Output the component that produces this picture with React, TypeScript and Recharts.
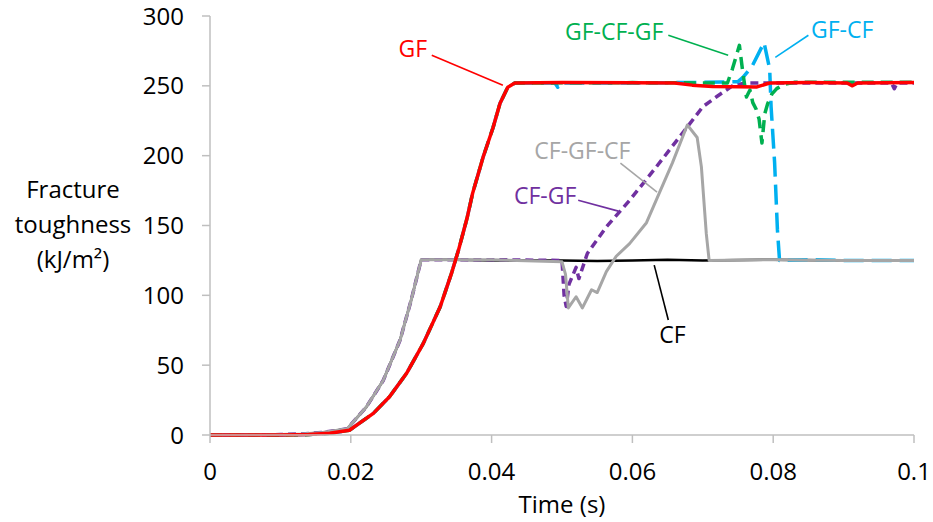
import React from 'react';
import { LineChart, Line, XAxis, YAxis, ReferenceLine, ReferenceDot } from 'recharts';

// ---- Data (time in s, fracture toughness in kJ/m²) ----
const gfX = [0, 0.01, 0.014, 0.017, 0.0198, 0.0232, 0.0255, 0.0279, 0.0303, 0.0327, 0.0343, 0.0353, 0.0365, 0.0373, 0.0388, 0.0402, 0.0412, 0.0423, 0.0433, 0.05, 0.06, 0.066, 0.0685, 0.0714, 0.075, 0.0777, 0.0795, 0.085, 0.0905, 0.0912, 0.092, 0.1];
const gfY = [0, 0, 0.3, 1.2, 3.4, 15.5, 27.4, 44, 65.6, 91.8, 115.7, 132.4, 155, 173, 199, 220, 237.5, 249, 252, 252.3, 252.2, 252, 250.5, 249.5, 249.3, 249.2, 252, 252.3, 252, 250, 252, 252.3];

const cfX = [0, 0.005, 0.01, 0.013, 0.016, 0.0195, 0.0222, 0.0246, 0.027, 0.0286, 0.03, 0.035, 0.04, 0.045, 0.05, 0.055, 0.06, 0.065, 0.07, 0.08, 0.09, 0.1];
const cfY = [0, 0, 0.3, 0.8, 1.8, 4.5, 20, 39, 68, 97, 125.5, 125.5, 125, 125, 125, 124.5, 125, 125.5, 125, 125.5, 125, 125];

const cfgfcfX = [0, 0.005, 0.01, 0.013, 0.016, 0.0195, 0.0222, 0.0246, 0.027, 0.0286, 0.03, 0.04, 0.05, 0.0505, 0.0509, 0.052, 0.0529, 0.0542, 0.055, 0.0563, 0.0577, 0.0596, 0.062, 0.0638, 0.0657, 0.0678, 0.0692, 0.0698, 0.0705, 0.0709, 0.08, 0.09, 0.1];
const cfgfcfY = [0, 0, 0.3, 0.8, 1.8, 4.5, 20, 39, 68, 97, 125.5, 125.5, 124, 115, 91, 99, 91, 104, 102, 117, 128, 137, 152, 173, 195, 222, 213, 192, 144, 125, 125.5, 125, 125];

const cfgfX = [0, 0.005, 0.01, 0.013, 0.016, 0.0195, 0.0222, 0.0246, 0.027, 0.0286, 0.03, 0.04, 0.05, 0.0503, 0.0506, 0.051, 0.052, 0.0524, 0.0536, 0.0563, 0.0596, 0.0634, 0.0671, 0.07, 0.0719, 0.0742, 0.076, 0.08, 0.09, 0.0968, 0.0972, 0.0976, 0.1];
const cfgfY = [0, 0, 0.3, 0.8, 1.8, 4.5, 20, 39, 68, 97, 125.5, 125.5, 125, 100, 92, 108, 120, 112, 130, 149, 168, 192, 216, 235, 242, 250, 252, 252, 252, 252, 248, 252, 252];

const gfcfX = [0, 0.01, 0.014, 0.017, 0.0198, 0.0232, 0.0255, 0.0279, 0.0303, 0.0327, 0.0343, 0.0353, 0.0365, 0.0373, 0.0388, 0.0402, 0.0412, 0.0423, 0.0433, 0.049, 0.0494, 0.0498, 0.06, 0.07, 0.075, 0.0757, 0.077, 0.0787, 0.0795, 0.0797, 0.0802, 0.0806, 0.0809, 0.085, 0.09, 0.1];
const gfcfY = [0, 0, 0.3, 1.2, 3.4, 15.5, 27.4, 44, 65.6, 91.8, 115.7, 132.4, 155, 173, 199, 220, 237.5, 249, 252, 252, 249, 252, 252, 252.5, 253, 256, 264, 281, 262, 235, 195, 147, 125, 125.5, 125, 125];

const gfcfgfX = [0, 0.01, 0.014, 0.017, 0.0198, 0.0232, 0.0255, 0.0279, 0.0303, 0.0327, 0.0343, 0.0353, 0.0365, 0.0373, 0.0388, 0.0402, 0.0412, 0.0423, 0.0433, 0.06, 0.0735, 0.0742, 0.0752, 0.0757, 0.0762, 0.0767, 0.0771, 0.0776, 0.078, 0.0784, 0.0788, 0.0792, 0.0798, 0.0805, 0.0815, 0.083, 0.1];
const gfcfgfY = [0, 0, 0.3, 1.2, 3.4, 15.5, 27.4, 44, 65.6, 91.8, 115.7, 132.4, 155, 173, 199, 220, 237.5, 249, 252, 252.3, 252, 262, 279, 259, 242, 247, 238, 233, 226, 209, 230, 237, 244, 248, 251, 252.5, 252.5];

const xTicks = [0, 0.02, 0.04, 0.06, 0.08, 0.1];
const yTicks = [0, 50, 100, 150, 200, 250, 300];

// annotation labels (data coordinates)
const labelNames = ['GF', 'GF-CF-GF', 'GF-CF', 'CF-GF-CF', 'CF-GF', 'CF'];
const labelColors = ['#ff0000', '#00b050', '#00b0f0', '#a6a6a6', '#7030a0', '#000000'];
const labelX = [0.0288, 0.0574, 0.0898, 0.0529, 0.0476, 0.0657];
const labelY = [276.2, 288.3, 289.8, 203.2, 171.0, 71.5];
const leaderFromX = [0.0315, 0.0651, 0.085, 0.0583, 0.0523, 0.0631];
const leaderFromY = [271.9, 286.2, 286.2, 194.6, 168.1, 121.6];
const leaderToX = [0.0416, 0.0736, 0.0803, 0.0635, 0.058, 0.0651];
const leaderToY = [250.4, 271.9, 270.4, 173.9, 160.3, 82.3];

const toPts = (xs: number[], ys: number[]) => xs.map((x, i) => ({ x, y: ys[i] }));

const FONT = '"Open Sans", sans-serif';

const series = [
  { name: 'CF', data: toPts(cfX, cfY), color: '#000000', width: 2.5, dash: undefined },
  { name: 'CF-GF', data: toPts(cfgfX, cfgfY), color: '#7030a0', width: 3.5, dash: '8 5' },
  { name: 'GF-CF', data: toPts(gfcfX, gfcfY), color: '#00b0f0', width: 3.5, dash: '20 8' },
  { name: 'GF-CF-GF', data: toPts(gfcfgfX, gfcfgfY), color: '#00b050', width: 3.5, dash: '12 7' },
  { name: 'CF-GF-CF', data: toPts(cfgfcfX, cfgfcfY), color: '#a6a6a6', width: 3, dash: undefined },
  { name: 'GF', data: toPts(gfX, gfY), color: '#ff0000', width: 3.5, dash: undefined },
];

const tickStyle = { fill: '#000', fontSize: 24, fontFamily: FONT };

export default function App() {
  return (
    <div style={{ position: 'absolute', left: 0, top: 0, width: 933, height: 522, background: '#fff' }}>
      <LineChart width={933} height={522} margin={{ top: 16, right: 19, bottom: 0, left: 0 }}>
        <XAxis
          type="number"
          dataKey="x"
          domain={[0, 0.1]}
          ticks={xTicks}
          tickFormatter={(v: number) => String(v)}
          allowDataOverflow
          height={87}
          tickSize={8}
          tickMargin={20}
          stroke="#bfbfbf"
          strokeWidth={1.5}
          tick={tickStyle}
          label={{
            content: () => (
              <text x={562} y={513} textAnchor="middle" fontSize={24} fontFamily={FONT} fill="#000">Time (s)</text>
            ),
          }}
        />
        <YAxis
          type="number"
          domain={[0, 300]}
          ticks={yTicks}
          width={210}
          tickSize={8}
          tickMargin={18}
          stroke="#bfbfbf"
          strokeWidth={1.5}
          tick={tickStyle}
          label={{
            content: () => (
              <text textAnchor="middle" fontSize={24} fontFamily={FONT} fill="#000">
                <tspan x={73} y={198}>Fracture</tspan>
                <tspan x={73} y={233}>toughness</tspan>
                <tspan x={73} y={268}>(kJ/m²)</tspan>
              </text>
            ),
          }}
        />
        {series.map((s) => (
          <Line
            key={s.name}
            data={s.data}
            dataKey="y"
            type="linear"
            stroke={s.color}
            strokeWidth={s.width}
            strokeDasharray={s.dash}
            dot={false}
            activeDot={false}
            isAnimationActive={false}
            strokeLinejoin="round"
          />
        ))}
        {labelNames.map((n, i) => (
          <ReferenceLine
            key={'l' + n}
            segment={[{ x: leaderFromX[i], y: leaderFromY[i] }, { x: leaderToX[i], y: leaderToY[i] }]}
            stroke={labelColors[i]}
            strokeWidth={1.6}
            ifOverflow="visible"
          />
        ))}
        {labelNames.map((n, i) => (
          <ReferenceDot
            key={'t' + n}
            x={labelX[i]}
            y={labelY[i]}
            r={0}
            ifOverflow="visible"
            shape={(p: any) => (
              <text x={p.cx} y={p.cy} dy={8} textAnchor="middle" fontSize={23} fontFamily={FONT} fill={labelColors[i]}>
                {n}
              </text>
            )}
          />
        ))}
      </LineChart>
    </div>
  );
}
